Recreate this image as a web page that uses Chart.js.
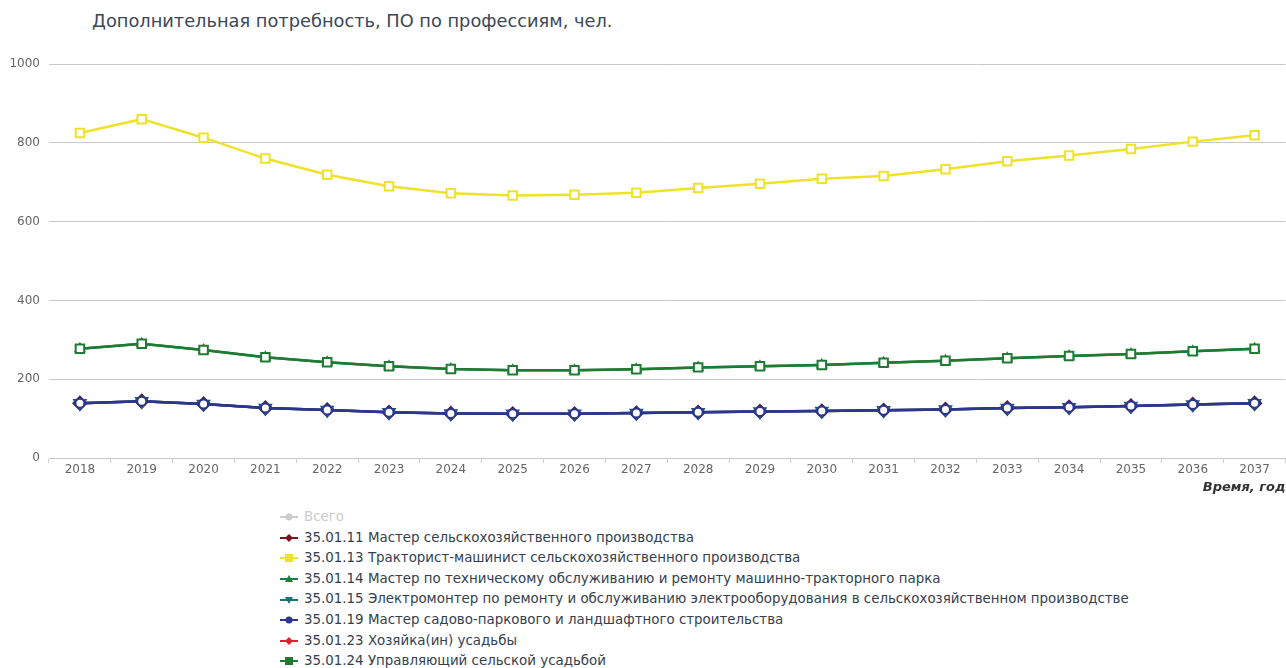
<!DOCTYPE html>
<html>
<head>
<meta charset="utf-8">
<script src="https://cdn.jsdelivr.net/npm/chart.js@4.4.1/dist/chart.umd.min.js"></script>
<style>
  html, body { margin: 0; padding: 0; background: #fff; }
  body { width: 1286px; height: 668px; position: relative; overflow: hidden; font-family: "DejaVu Sans", sans-serif; }
  #title { position: absolute; left: 92px; top: 10px; font-size: 17.8px; color: #3b4858; white-space: nowrap; }
  #chartBox { position: absolute; left: 0; top: 0; width: 1294px; height: 500px; }
  #legend { position: absolute; left: 280px; top: 507px; font-size: 13.4px; color: #34404e; }
  #legend .item { height: 20.6px; line-height: 20.6px; white-space: nowrap; display: flex; align-items: center; }
  #legend svg { margin-right: 6px; flex: none; }
</style>
</head>
<body>
<div id="title">Дополнительная потребность, ПО по профессиям, чел.</div>
<div id="chartBox"><canvas id="chart" width="1294" height="500"></canvas></div>
<div id="legend"></div>

<script>
const years = ['2018','2019','2020','2021','2022','2023','2024','2025','2026','2027',
               '2028','2029','2030','2031','2032','2033','2034','2035','2036','2037'];

// hidden in the picture (legend item greyed out)
const total     = [1796,1872,1772,1653,1571,1504,1463,1448,1450,1465,1493,1516,1538,1563,1596,1640,1673,1708,1753,1790];
const s350111   = [139,144,137,127,122,116,113,112,112,114,116,118,119,121,123,127,129,132,136,139];
const s350113   = [825,860,813,760,719,690,672,666,668,673,685,696,709,716,733,753,768,784,803,819];
const s350114   = [277,290,274,256,243,233,226,223,223,225,230,233,236,242,247,253,259,264,271,277];
const s350115   = [139,144,137,127,122,116,113,112,112,114,116,118,119,121,123,127,129,132,136,139];
const s350119   = [139,144,137,127,122,116,113,112,112,114,116,118,119,121,123,127,129,132,136,139];
const s350123   = [null,null,null,null,null,null,null,null,null,null,null,null,null,null,null,null,null,null,null,null];
const s350124   = [277,290,274,256,243,233,226,223,223,225,230,233,236,242,247,253,259,264,271,277];

const yTicks = [0, 200, 400, 600, 800, 1000];

function series(label, data, color, style, radius, order, hidden){
  return {
    label: label,
    data: data,
    borderColor: color,
    backgroundColor: color,
    borderWidth: 2.5,
    pointStyle: style,
    pointRadius: radius,
    pointBorderWidth: 2,
    pointBackgroundColor: '#fff',
    pointBorderColor: color,
    tension: 0,
    order: order,
    hidden: !!hidden
  };
}

const datasets = [
  series('Всего', total, '#b0b0b0', 'circle', 4, 8, true),
  series('35.01.11 Мастер сельскохозяйственного производства', s350111, '#4a2050', 'rectRot', 6.5, 7),
  series('35.01.13 Тракторист-машинист сельскохозяйственного производства', s350113, '#eee22a', 'rect', 6, 1),
  series('35.01.14 Мастер по техническому обслуживанию и ремонту машинно-тракторного парка', s350114, '#1f7f3e', 'triangle', 5, 6),
  series('35.01.15 Электромонтер по ремонту и обслуживанию электрооборудования в сельскохозяйственном производстве', s350115, '#1d5a78', 'triangle', 6.5, 5),
  series('35.01.19 Мастер садово-паркового и ландшафтного строительства', s350119, '#2c3590', 'circle', 4.5, 2),
  series('35.01.23 Хозяйка(ин) усадьбы', s350123, '#e0202c', 'rectRot', 5, 4),
  series('35.01.24 Управляющий сельской усадьбой', s350124, '#217a34', 'rect', 6, 3)
];
// triangle-down for 35.01.15
datasets[4].pointRotation = 180;

const legendColors = ['#cccccc', '#7a1420', '#eee22a', '#1f7f3e', '#1b7474', '#2c3590', '#e0202c', '#217a34'];

const ctx = document.getElementById('chart').getContext('2d');
const chart = new Chart(ctx, {
  type: 'line',
  data: { labels: years, datasets: datasets },
  options: {
    responsive: false,
    animation: false,
    devicePixelRatio: 1,
    layout: { padding: { top: 64, right: 1, left: 0, bottom: 5 } },
    plugins: {
      legend: { display: false },
      title: { display: false },
      tooltip: { enabled: false }
    },
    scales: {
      x: {
        offset: true,
        grid: { drawOnChartArea: false, drawTicks: true, tickLength: 5, color: '#d0d0d0', offset: true },
        border: { display: true, color: '#c8c8c8', width: 1 },
        ticks: { color: '#666', font: { family: 'DejaVu Sans', size: 12 }, padding: 0, maxRotation: 0, autoSkip: false },
        title: {
          display: true, text: 'Время, год', align: 'end', color: '#333',
          font: { family: 'DejaVu Sans', size: 13, weight: 'bold', style: 'italic' },
          padding: { top: 2, bottom: 0 }
        }
      },
      y: {
        min: 0, max: 1000,
        afterBuildTicks: function(scale){ scale.ticks = yTicks.map(v => ({ value: v })); },
        afterFit: function(scale){ scale.width = 49; },
        grid: { color: '#c8c8c8', drawTicks: false, lineWidth: 1 },
        border: { display: false },
        ticks: {
          color: '#666', font: { family: 'DejaVu Sans', size: 12 }, padding: 9,
          callback: function(v){ return String(v); }
        }
      }
    }
  }
});

// legend as a plain list under the chart
function markerSvg(ds, c){
  let shape = '';
  if (ds.pointStyle === 'circle') shape = '<circle cx="9" cy="6" r="3.5" fill="' + c + '"/>';
  else if (ds.pointStyle === 'rect') shape = '<rect x="5" y="2" width="8" height="8" fill="' + c + '"/>';
  else if (ds.pointStyle === 'rectRot') shape = '<polygon points="9,2 13,6 9,10 5,6" fill="' + c + '"/>';
  else if (ds.pointRotation === 180) shape = '<polygon points="5,3 13,3 9,10" fill="' + c + '"/>';
  else shape = '<polygon points="9,2 13,9 5,9" fill="' + c + '"/>';
  return '<svg width="18" height="12"><line x1="0" y1="6" x2="18" y2="6" stroke="' + c + '" stroke-width="2"/>' + shape + '</svg>';
}

const legendEl = document.getElementById('legend');
chart.data.datasets.forEach((ds, i) => {
  const row = document.createElement('div');
  row.className = 'item';
  row.innerHTML = markerSvg(ds, legendColors[i]) + '<span style="color:' + (ds.hidden ? '#cccccc' : '#34404e') + '">' + ds.label + '</span>';
  legendEl.appendChild(row);
});
</script>
</body>
</html>
